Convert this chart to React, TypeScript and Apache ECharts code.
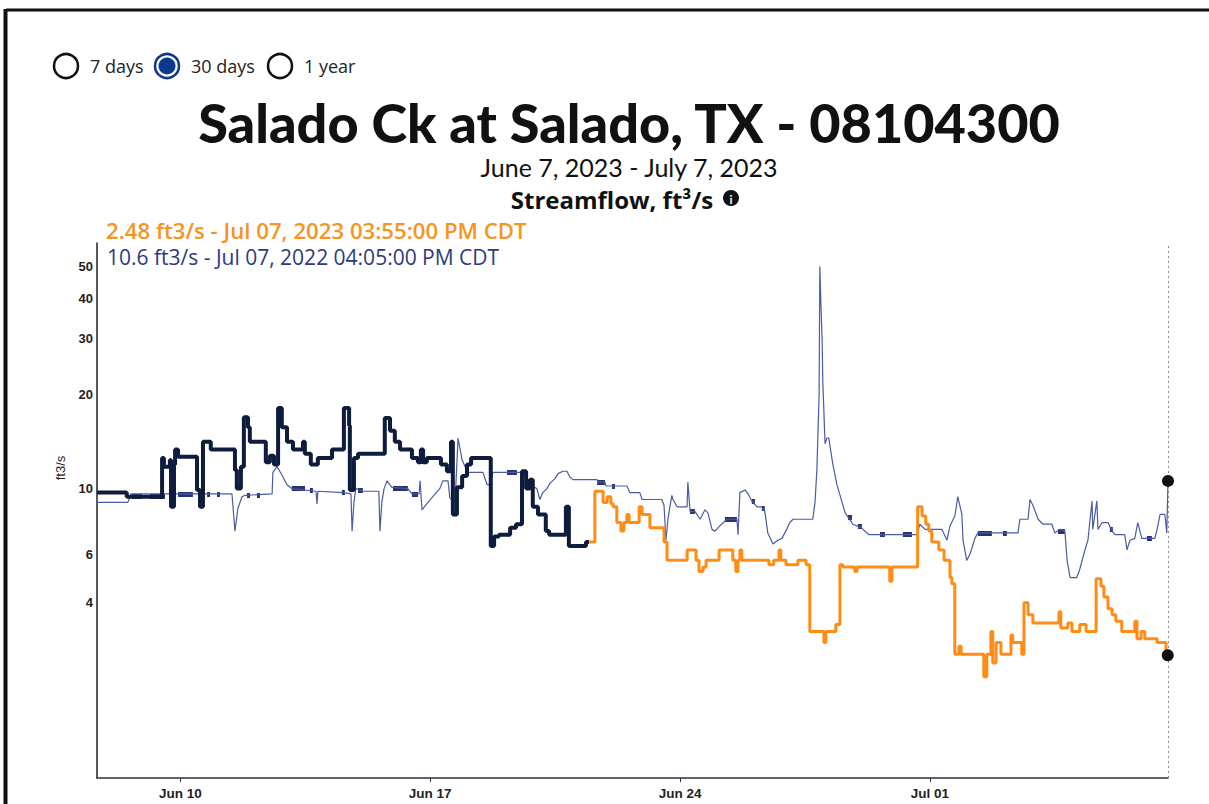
import React, { useEffect, useRef } from "react";
import * as echarts from "echarts";

// ---------- text content ----------
const SITE_NAME = "Salado Ck at Salado, TX - 08104300";
const PERIOD_TEXT = "June 7, 2023 - July 7, 2023";
const PARAMETER_TEXT = "Streamflow, ft³/s";
const UNIT = "ft3/s";
const PERIOD_OPTIONS = ["7 days", "30 days", "1 year"];
const SELECTED_PERIOD = "30 days";

// ---------- axes ----------
const X_RANGE = ["2023-06-07 16:00", "2023-07-07 16:05"];
const X_TICK_DATES = ["2023-06-10 00:00", "2023-06-17 00:00", "2023-06-24 00:00", "2023-07-01 00:00"];
const X_TICK_LABELS = ["Jun 10", "Jun 17", "Jun 24", "Jul 01"];
const Y_TICK_VALUES = [4, 6, 10, 20, 30, 40, 50];
const Y_RANGE = [0.49, 59];

// ---------- 2023 streamflow, approved part (step changes) ----------
const approvedTimes = [
  "2023-06-07 16:00", "2023-06-08 12:00", "2023-06-09 11:45", "2023-06-09 13:00", "2023-06-09 17:00",
  "2023-06-09 17:45", "2023-06-09 19:45", "2023-06-09 20:30", "2023-06-09 22:30", "2023-06-10 11:15",
  "2023-06-10 13:15", "2023-06-10 15:15", "2023-06-10 20:30", "2023-06-11 12:45", "2023-06-11 14:00",
  "2023-06-11 16:45", "2023-06-11 18:45", "2023-06-11 21:30", "2023-06-11 22:45", "2023-06-12 09:30",
  "2023-06-12 12:15", "2023-06-12 15:00", "2023-06-12 17:45", "2023-06-12 20:15", "2023-06-12 23:45",
  "2023-06-13 03:45", "2023-06-13 10:30", "2023-06-13 11:45", "2023-06-13 15:45", "2023-06-13 20:30",
  "2023-06-14 06:00", "2023-06-14 14:00", "2023-06-14 17:30", "2023-06-14 18:00", "2023-06-14 20:45",
  "2023-06-14 23:30", "2023-06-15 17:30", "2023-06-15 21:00", "2023-06-16 00:15", "2023-06-16 03:45",
  "2023-06-16 11:45", "2023-06-16 15:45", "2023-06-16 17:45", "2023-06-16 19:15", "2023-06-16 21:45",
  "2023-06-17 07:15", "2023-06-17 11:15", "2023-06-17 14:00", "2023-06-17 15:15", "2023-06-17 18:00",
  "2023-06-17 21:30", "2023-06-18 00:45", "2023-06-18 03:30", "2023-06-18 16:45", "2023-06-18 19:00",
  "2023-06-18 22:15", "2023-06-19 05:45", "2023-06-19 09:45", "2023-06-19 13:45", "2023-06-19 16:30",
  "2023-06-19 19:00", "2023-06-19 21:00", "2023-06-20 00:30", "2023-06-20 05:45", "2023-06-20 08:00",
  "2023-06-20 19:15", "2023-06-20 21:15", "2023-06-21 08:45", "2023-06-21 10:45",
];
const approvedValues = [
  9.7, 9.4, 12.6, 11.8, 12.4,
  8.7, 12.0, 13.4, 12.7, 9.9,
  8.7, 14.2, 13.4, 11.5, 10.0,
  11.8, 17.0, 15.8, 14.2, 12.2,
  12.8, 12.0, 18.2, 15.8, 14.2,
  13.4, 14.2, 13.0, 12.0, 12.6,
  13.4, 18.2, 16.0, 9.9, 12.6,
  13.0, 16.9, 15.4, 14.2, 13.4,
  12.6, 12.2, 13.4, 12.2, 12.6,
  12.0, 11.4, 14.2, 8.2, 10.1,
  11.0, 12.0, 12.6, 6.4, 6.9,
  7.0, 7.4, 7.6, 11.4, 10.0,
  10.7, 8.7, 8.2, 7.2, 7.0,
  8.7, 6.4, 6.6, 6.6,
];

// ---------- 2023 streamflow, provisional part (step changes) ----------
const provisionalTimes = [
  "2023-06-21 10:45", "2023-06-21 14:45", "2023-06-21 20:15", "2023-06-21 23:00", "2023-06-22 01:30",
  "2023-06-22 03:00", "2023-06-22 05:30", "2023-06-22 08:15", "2023-06-22 10:15", "2023-06-22 12:15",
  "2023-06-22 13:45", "2023-06-22 20:30", "2023-06-22 22:30", "2023-06-23 03:45", "2023-06-23 13:15",
  "2023-06-23 15:15", "2023-06-24 04:45", "2023-06-24 10:45", "2023-06-24 12:45", "2023-06-24 15:30",
  "2023-06-24 17:30", "2023-06-25 02:15", "2023-06-25 11:30", "2023-06-25 13:30", "2023-06-25 15:00",
  "2023-06-25 16:15", "2023-06-25 17:30", "2023-06-26 11:45", "2023-06-26 15:00", "2023-06-26 18:30",
  "2023-06-26 19:45", "2023-06-26 23:15", "2023-06-27 07:15", "2023-06-27 12:45", "2023-06-27 15:15",
  "2023-06-28 00:45", "2023-06-28 02:00", "2023-06-28 08:45", "2023-06-28 11:30", "2023-06-28 13:30",
  "2023-06-28 21:30", "2023-06-28 23:00", "2023-06-29 21:00", "2023-06-29 22:30", "2023-06-30 15:45",
  "2023-06-30 18:45", "2023-06-30 21:15", "2023-06-30 23:15", "2023-07-01 01:15", "2023-07-01 06:00",
  "2023-07-01 09:30", "2023-07-01 13:30", "2023-07-01 14:45", "2023-07-01 16:45", "2023-07-01 19:30",
  "2023-07-01 21:00", "2023-07-02 12:15", "2023-07-02 14:15", "2023-07-02 17:00", "2023-07-02 18:15",
  "2023-07-02 20:30", "2023-07-02 23:45", "2023-07-03 06:30", "2023-07-03 07:45", "2023-07-03 13:45",
  "2023-07-03 15:15", "2023-07-03 18:00", "2023-07-03 21:15", "2023-07-04 14:45", "2023-07-04 16:00",
  "2023-07-04 20:45", "2023-07-04 23:30", "2023-07-05 04:45", "2023-07-05 09:00", "2023-07-05 15:45",
  "2023-07-05 19:00", "2023-07-05 21:00", "2023-07-05 23:45", "2023-07-06 02:30", "2023-07-06 05:00",
  "2023-07-06 09:00", "2023-07-06 17:45", "2023-07-06 19:15", "2023-07-06 22:00", "2023-07-07 00:30",
  "2023-07-07 08:45", "2023-07-07 14:45", "2023-07-07 15:55",
];
const provisionalValues = [
  6.6, 9.8, 9.0, 9.4, 8.9,
  8.7, 7.7, 7.2, 7.7, 8.2,
  7.7, 8.7, 8.2, 7.4, 6.6,
  5.7, 6.2, 5.7, 5.2, 5.4,
  5.7, 6.2, 5.7, 5.2, 5.7,
  6.2, 5.7, 5.5, 5.7, 6.2,
  5.7, 5.5, 5.7, 5.5, 3.1,
  2.8, 3.1, 3.3, 5.5, 5.4,
  5.2, 5.4, 4.8, 5.4, 8.7,
  8.1, 7.6, 7.2, 6.6, 6.2,
  5.7, 4.95, 4.7, 2.5, 2.7,
  2.5, 2.0, 2.5, 3.1, 2.3,
  2.8, 2.5, 3.0, 2.8, 2.5,
  4.0, 3.6, 3.35, 3.7, 3.2,
  3.35, 3.1, 3.3, 3.1, 4.9,
  4.6, 4.2, 3.8, 3.6, 3.4,
  3.1, 3.4, 2.9, 3.1, 2.9,
  2.8, 2.48, 2.48,
];

// ---------- 2022 streamflow (same calendar days, one year earlier) ----------
const priorYearTimes = [
  "2022-06-07 16:00", "2022-06-08 12:45", "2022-06-08 14:45", "2022-06-11 10:45", "2022-06-11 12:45",
  "2022-06-11 14:45", "2022-06-11 17:30", "2022-06-11 19:30", "2022-06-12 13:45", "2022-06-12 14:15",
  "2022-06-12 17:00", "2022-06-12 20:15", "2022-06-12 23:45", "2022-06-13 03:00", "2022-06-13 19:15",
  "2022-06-13 19:55", "2022-06-13 20:30", "2022-06-14 13:30", "2022-06-14 18:45", "2022-06-14 19:30",
  "2022-06-14 20:45", "2022-06-14 22:00", "2022-06-15 02:45", "2022-06-15 13:30", "2022-06-15 14:15",
  "2022-06-15 15:30", "2022-06-15 17:00", "2022-06-15 19:00", "2022-06-15 22:15", "2022-06-16 09:00",
  "2022-06-16 11:45", "2022-06-16 16:30", "2022-06-16 17:15", "2022-06-16 18:30", "2022-06-16 21:45",
  "2022-06-17 01:45", "2022-06-17 06:30", "2022-06-17 08:30", "2022-06-17 12:00", "2022-06-17 13:15",
  "2022-06-17 16:45", "2022-06-17 18:45", "2022-06-17 21:30", "2022-06-17 23:30", "2022-06-18 01:30",
  "2022-06-18 11:30", "2022-06-18 14:15", "2022-06-18 16:15", "2022-06-18 18:15", "2022-06-19 13:45",
  "2022-06-19 15:45", "2022-06-19 20:30", "2022-06-19 23:45", "2022-06-20 01:45", "2022-06-20 03:45",
  "2022-06-20 06:30", "2022-06-20 08:30", "2022-06-20 12:00", "2022-06-20 14:00", "2022-06-20 17:15",
  "2022-06-20 20:00", "2022-06-20 22:00", "2022-06-21 00:00", "2022-06-21 16:15", "2022-06-21 16:45",
  "2022-06-21 21:30", "2022-06-21 22:15", "2022-06-22 12:15", "2022-06-22 14:15", "2022-06-22 21:00",
  "2022-06-22 22:30", "2022-06-23 11:45", "2022-06-23 13:15", "2022-06-23 14:30", "2022-06-23 16:00",
  "2022-06-23 18:30", "2022-06-23 19:15", "2022-06-23 22:00", "2022-06-24 04:45", "2022-06-24 05:15",
  "2022-06-24 06:45", "2022-06-24 10:00", "2022-06-24 13:30", "2022-06-24 16:45", "2022-06-24 18:45",
  "2022-06-24 21:30", "2022-06-24 23:30", "2022-06-25 02:45", "2022-06-25 07:30", "2022-06-25 14:15",
  "2022-06-25 15:00", "2022-06-25 16:15", "2022-06-25 19:45", "2022-06-25 21:45", "2022-06-26 00:15",
  "2022-06-26 03:45", "2022-06-26 07:00", "2022-06-26 09:00", "2022-06-26 11:00", "2022-06-26 14:30",
  "2022-06-26 17:45", "2022-06-26 20:30", "2022-06-26 23:45", "2022-06-27 01:45", "2022-06-27 04:00",
  "2022-06-27 17:15", "2022-06-27 18:45", "2022-06-27 20:00", "2022-06-27 21:30", "2022-06-27 22:00",
  "2022-06-27 22:45", "2022-06-27 23:30", "2022-06-28 00:00", "2022-06-28 01:30", "2022-06-28 02:45",
  "2022-06-28 04:00", "2022-06-28 06:45", "2022-06-28 09:30", "2022-06-28 15:00", "2022-06-28 20:15",
  "2022-06-29 01:45", "2022-06-29 07:00", "2022-06-30 15:15", "2022-06-30 17:15", "2022-06-30 20:45",
  "2022-07-01 08:00", "2022-07-01 11:30", "2022-07-01 13:30", "2022-07-01 16:45", "2022-07-01 18:45",
  "2022-07-01 21:30", "2022-07-01 22:15", "2022-07-02 00:45", "2022-07-02 03:00", "2022-07-02 06:15",
  "2022-07-02 08:15", "2022-07-03 11:15", "2022-07-03 12:30", "2022-07-03 18:00", "2022-07-03 19:15",
  "2022-07-03 21:15", "2022-07-04 00:45", "2022-07-04 04:00", "2022-07-04 10:00", "2022-07-04 12:00",
  "2022-07-04 15:30", "2022-07-04 18:45", "2022-07-04 20:15", "2022-07-04 22:15", "2022-07-05 02:45",
  "2022-07-05 04:45", "2022-07-05 08:15", "2022-07-05 10:15", "2022-07-05 13:00", "2022-07-05 13:30",
  "2022-07-05 16:15", "2022-07-05 17:00", "2022-07-05 19:45", "2022-07-05 23:45", "2022-07-06 02:30",
  "2022-07-06 04:30", "2022-07-06 11:00", "2022-07-06 12:30", "2022-07-06 14:30", "2022-07-06 17:45",
  "2022-07-06 19:45", "2022-07-06 22:30", "2022-07-07 07:15", "2022-07-07 08:45", "2022-07-07 10:45",
  "2022-07-07 14:00", "2022-07-07 15:15", "2022-07-07 16:05",
];
const priorYearValues = [
  9.0, 9.0, 9.6, 9.6, 7.2,
  8.6, 9.4, 9.5, 9.6, 11.3,
  11.8, 11.1, 10.3, 10.0, 9.8,
  8.9, 9.8, 9.7, 9.6, 7.2,
  9.0, 10.0, 9.8, 9.8, 7.2,
  9.0, 10.0, 10.6, 10.1, 10.0,
  9.6, 9.6, 10.6, 8.5, 8.9,
  9.4, 10.0, 10.6, 10.6, 9.3,
  9.0, 14.6, 12.4, 11.8, 11.3,
  11.3, 10.3, 10.3, 11.3, 11.3,
  11.0, 10.2, 10.0, 9.2, 9.7,
  10.0, 10.4, 10.8, 11.2, 11.4,
  11.4, 10.9, 10.7, 10.7, 10.5,
  10.5, 10.2, 10.2, 9.7, 9.7,
  9.2, 9.2, 8.8, 6.7, 8.0,
  9.5, 9.2, 8.7, 8.7, 10.5,
  8.4, 8.4, 7.9, 8.5, 8.3,
  7.3, 7.2, 7.5, 7.9, 7.9,
  7.0, 9.7, 9.9, 9.6, 9.1,
  8.7, 8.7, 8.4, 7.1, 6.5,
  6.7, 6.8, 7.3, 7.7, 7.9,
  7.9, 9.0, 11.5, 20.0, 50.0,
  38.0, 30.0, 22.0, 14.0, 14.6,
  14.6, 12.0, 10.3, 8.3, 7.6,
  7.4, 7.0, 7.0, 7.6, 7.3,
  7.3, 6.7, 7.5, 8.1, 9.4,
  8.2, 6.7, 5.7, 6.0, 6.8,
  7.1, 7.1, 7.9, 7.9, 9.2,
  8.8, 7.9, 7.6, 7.6, 7.1,
  7.3, 7.2, 5.7, 4.95, 4.95,
  5.3, 6.2, 6.7, 9.1, 7.3,
  9.1, 7.3, 7.7, 7.7, 7.2,
  7.0, 7.0, 6.2, 6.7, 6.8,
  7.7, 6.8, 6.8, 7.3, 8.2,
  8.2, 7.1, 10.6,
];

// ---------- 2022 stretches drawn heavier (flagged readings) ----------
const priorFlagStart = [
  "2022-06-08 15:30", "2022-06-09 03:40", "2022-06-09 22:30", "2022-06-10 18:00", "2022-06-11 00:40",
  "2022-06-11 20:50", "2022-06-12 03:35", "2022-06-13 03:00", "2022-06-13 15:10", "2022-06-14 12:40",
  "2022-06-14 23:30", "2022-06-15 23:00", "2022-06-16 11:45", "2022-06-19 03:40", "2022-06-21 16:15",
  "2022-06-22 02:15", "2022-06-24 06:45", "2022-06-25 06:10", "2022-06-26 00:15", "2022-06-26 07:00",
  "2022-06-28 16:55", "2022-06-28 23:35", "2022-06-29 14:25", "2022-06-30 05:50", "2022-07-02 08:15",
  "2022-07-03 01:05", "2022-07-04 14:05", "2022-07-06 01:00", "2022-07-07 01:55",
];
const priorFlagEnd = [
  "2022-06-08 22:15", "2022-06-09 13:45", "2022-06-10 08:30", "2022-06-10 20:00", "2022-06-11 02:40",
  "2022-06-11 22:50", "2022-06-12 05:35", "2022-06-13 11:50", "2022-06-13 17:10", "2022-06-14 14:40",
  "2022-06-15 02:45", "2022-06-16 09:00", "2022-06-16 15:50", "2022-06-19 10:20", "2022-06-21 21:30",
  "2022-06-22 04:15", "2022-06-24 10:00", "2022-06-25 14:15", "2022-06-26 02:20", "2022-06-26 09:00",
  "2022-06-28 19:35", "2022-06-29 02:15", "2022-06-29 17:45", "2022-06-30 11:55", "2022-07-02 17:40",
  "2022-07-03 03:45", "2022-07-04 18:45", "2022-07-06 03:00", "2022-07-07 05:15",
];
const priorFlagValues = [
  9.4, 9.4, 9.6, 9.6, 9.6,
  9.5, 9.5, 10.0, 9.9, 9.7,
  9.9, 10.0, 9.6, 11.3, 10.5,
  10.2, 8.4, 7.9, 9.1, 8.6,
  8.0, 7.5, 7.0, 7.0, 7.1,
  7.1, 7.2, 7.3, 6.8,
];

// ---------- helpers ----------
const MONTHS = ["Jan", "Feb", "Mar", "Apr", "May", "Jun", "Jul", "Aug", "Sep", "Oct", "Nov", "Dec"];
function parseStamp(s: string) {
  const [d, t] = s.split(" ");
  const [y, m, day] = d.split("-").map(Number);
  const [hh, mm] = t.split(":").map(Number);
  return { y, m, day, hh, mm };
}
// calendar position (days since Jun 7 00:00), year ignored so both years overlay
function toDays(s: string) {
  const p = parseStamp(s);
  return (Date.UTC(2023, p.m - 1, p.day, p.hh, p.mm) - Date.UTC(2023, 5, 7)) / 86400000;
}
// symmetric-log style scale used by the chart: log10(v + 1)
const toY = (v: number) => Math.log10(v + 1);
function stampLabel(s: string, tz: string) {
  const p = parseStamp(s);
  const h12 = p.hh % 12 === 0 ? 12 : p.hh % 12;
  const ampm = p.hh < 12 ? "AM" : "PM";
  const pad = (n: number) => String(n).padStart(2, "0");
  return `${MONTHS[p.m - 1]} ${pad(p.day)}, ${p.y} ${pad(h12)}:${pad(p.mm)}:00 ${ampm} ${tz}`;
}
const pairs = (times: string[], values: number[]) => times.map((t, i) => [toDays(t), toY(values[i])]);

export default function App() {
  const ref = useRef<HTMLDivElement>(null);
  useEffect(() => {
    if (!ref.current) return;
    const chart = echarts.init(ref.current, undefined, { renderer: "svg" });

    const xTicks = X_TICK_DATES.map(toDays);
    const lastNow = provisionalTimes[provisionalTimes.length - 1];
    const lastNowV = provisionalValues[provisionalValues.length - 1];
    const lastPrior = priorYearTimes[priorYearTimes.length - 1];
    const lastPriorV = priorYearValues[priorYearValues.length - 1];
    const nowLabel = `${lastNowV} ${UNIT} - ${stampLabel(lastNow, "CDT")}`;
    const priorLabel = `${lastPriorV} ${UNIT} - ${stampLabel(lastPrior, "CDT")}`;

    const radioX = [66, 167, 280];
    const radioLabelX = [90, 191, 304];
    const radios: any[] = [];
    PERIOD_OPTIONS.forEach((opt, i) => {
      const sel = opt === SELECTED_PERIOD;
      radios.push({
        type: "circle",
        shape: { cx: radioX[i], cy: 66, r: 12 },
        style: { fill: "#fff", stroke: sel ? "#0b3a8c" : "#111", lineWidth: 2.5 },
      });
      if (sel) {
        radios.push({ type: "circle", shape: { cx: radioX[i], cy: 66, r: 8.5 }, style: { fill: "#0b3a8c" } });
      }
      radios.push({
        type: "text",
        x: radioLabelX[i],
        y: 66,
        style: { text: opt, font: "18px 'Open Sans'", fill: "#222", verticalAlign: "middle", align: "left" },
      });
    });

    const option: any = {
      animation: false,
      backgroundColor: "#fff",
      grid: { left: 97, top: 243, right: 41, bottom: 26, containLabel: false },
      xAxis: {
        type: "value",
        min: toDays(X_RANGE[0]),
        max: toDays(X_RANGE[1]),
        axisLine: { show: true, lineStyle: { color: "#2a3140", width: 1.5 } },
        axisTick: { show: true, customValues: xTicks, length: 4, lineStyle: { color: "#2a3140" } },
        axisLabel: {
          customValues: xTicks,
          formatter: (v: number) => {
            const i = xTicks.findIndex((t) => Math.abs(t - v) < 1e-6);
            return i >= 0 ? X_TICK_LABELS[i] : "";
          },
          color: "#222",
          fontWeight: "bold",
          fontSize: 13.5,
          fontFamily: "Liberation Sans, Arial, sans-serif",
          margin: 8,
        },
        splitLine: { show: false },
      },
      yAxis: {
        type: "value",
        min: toY(Y_RANGE[0]),
        max: toY(Y_RANGE[1]),
        axisLine: { show: true, lineStyle: { color: "#222", width: 1.5 } },
        axisTick: { show: false },
        axisLabel: {
          customValues: Y_TICK_VALUES.map(toY),
          formatter: (v: number) => String(Math.round(Math.pow(10, v) - 1)),
          color: "#222",
          fontWeight: "bold",
          fontSize: 13,
          fontFamily: "Liberation Sans, Arial, sans-serif",
          margin: 4,
        },
        splitLine: { show: false },
      },
      series: [
        {
          name: "2022",
          type: "line",
          data: pairs(priorYearTimes, priorYearValues),
          symbol: "none",
          lineStyle: { color: "#4a5ca2", width: 1.2 },
          z: 2,
          markLine: {
            silent: true,
            symbol: "none",
            label: { show: false },
            lineStyle: { color: "#8a8a8a", type: [2, 3], width: 1 },
            data: [{ xAxis: toDays(X_RANGE[1]) }],
          },
        },
        {
          name: "2022 flagged",
          type: "lines",
          coordinateSystem: "cartesian2d",
          data: priorFlagStart.map((t, i) => ({
            coords: [
              [toDays(t), toY(priorFlagValues[i])],
              [toDays(priorFlagEnd[i]), toY(priorFlagValues[i])],
            ],
          })),
          lineStyle: { color: "#28336f", width: 5, opacity: 1 },
          z: 2,
        },
        {
          name: "2023 approved",
          type: "line",
          step: "end",
          data: pairs(approvedTimes, approvedValues),
          symbol: "none",
          lineStyle: { color: "#0e1c3d", width: 4 },
          z: 3,
        },
        {
          name: "2023 provisional",
          type: "line",
          step: "end",
          data: pairs(provisionalTimes, provisionalValues),
          symbol: "none",
          lineStyle: { color: "#ff8c14", width: 3 },
          z: 3,
        },
        {
          name: "current",
          type: "scatter",
          data: [
            [toDays(lastPrior), toY(lastPriorV)],
            [toDays(lastNow), toY(lastNowV)],
          ],
          symbol: "circle",
          symbolSize: 12,
          itemStyle: { color: "#111", opacity: 1 },
          z: 5,
        },
      ],
      graphic: {
        elements: [
          { type: "line", shape: { x1: 6, y1: 10, x2: 1209, y2: 10 }, style: { stroke: "#111", lineWidth: 3 } },
          { type: "line", shape: { x1: 5.5, y1: 9, x2: 5.5, y2: 804 }, style: { stroke: "#111", lineWidth: 4 } },
          ...radios,
          {
            type: "text",
            x: 629,
            y: 122,
            style: { text: SITE_NAME, font: "900 54px Lato", fill: "#111", align: "center", verticalAlign: "middle" },
          },
          {
            type: "text",
            x: 629,
            y: 167,
            style: { text: PERIOD_TEXT, font: "25px Lato", fill: "#111", align: "center", verticalAlign: "middle" },
          },
          {
            type: "text",
            x: 612,
            y: 199,
            style: { text: PARAMETER_TEXT, font: "bold 24px 'Open Sans'", fill: "#111", align: "center", verticalAlign: "middle" },
          },
          { type: "circle", shape: { cx: 731, cy: 198, r: 8 }, style: { fill: "#111" } },
          {
            type: "text",
            x: 731,
            y: 199,
            style: { text: "i", font: "bold 12px Lato", fill: "#fff", align: "center", verticalAlign: "middle" },
          },
          {
            type: "text",
            x: 106,
            y: 230,
            style: { text: nowLabel, font: "600 22.2px 'Open Sans'", fill: "#f7941d", align: "left", verticalAlign: "middle" },
          },
          {
            type: "text",
            x: 107,
            y: 257,
            style: { text: priorLabel, font: "21px 'Open Sans'", fill: "#2e3b7c", align: "left", verticalAlign: "middle" },
          },
          {
            type: "text",
            x: 60,
            y: 468,
            rotation: Math.PI / 2,
            style: { text: UNIT, font: "13px Liberation Sans", fill: "#222", align: "center", verticalAlign: "middle" },
          },
        ],
      },
    };
    chart.setOption(option);
    return () => chart.dispose();
  }, []);
  return <div ref={ref} style={{ position: "fixed", left: 0, top: 0, width: 1209, height: 804, background: "#fff" }} />;
}
